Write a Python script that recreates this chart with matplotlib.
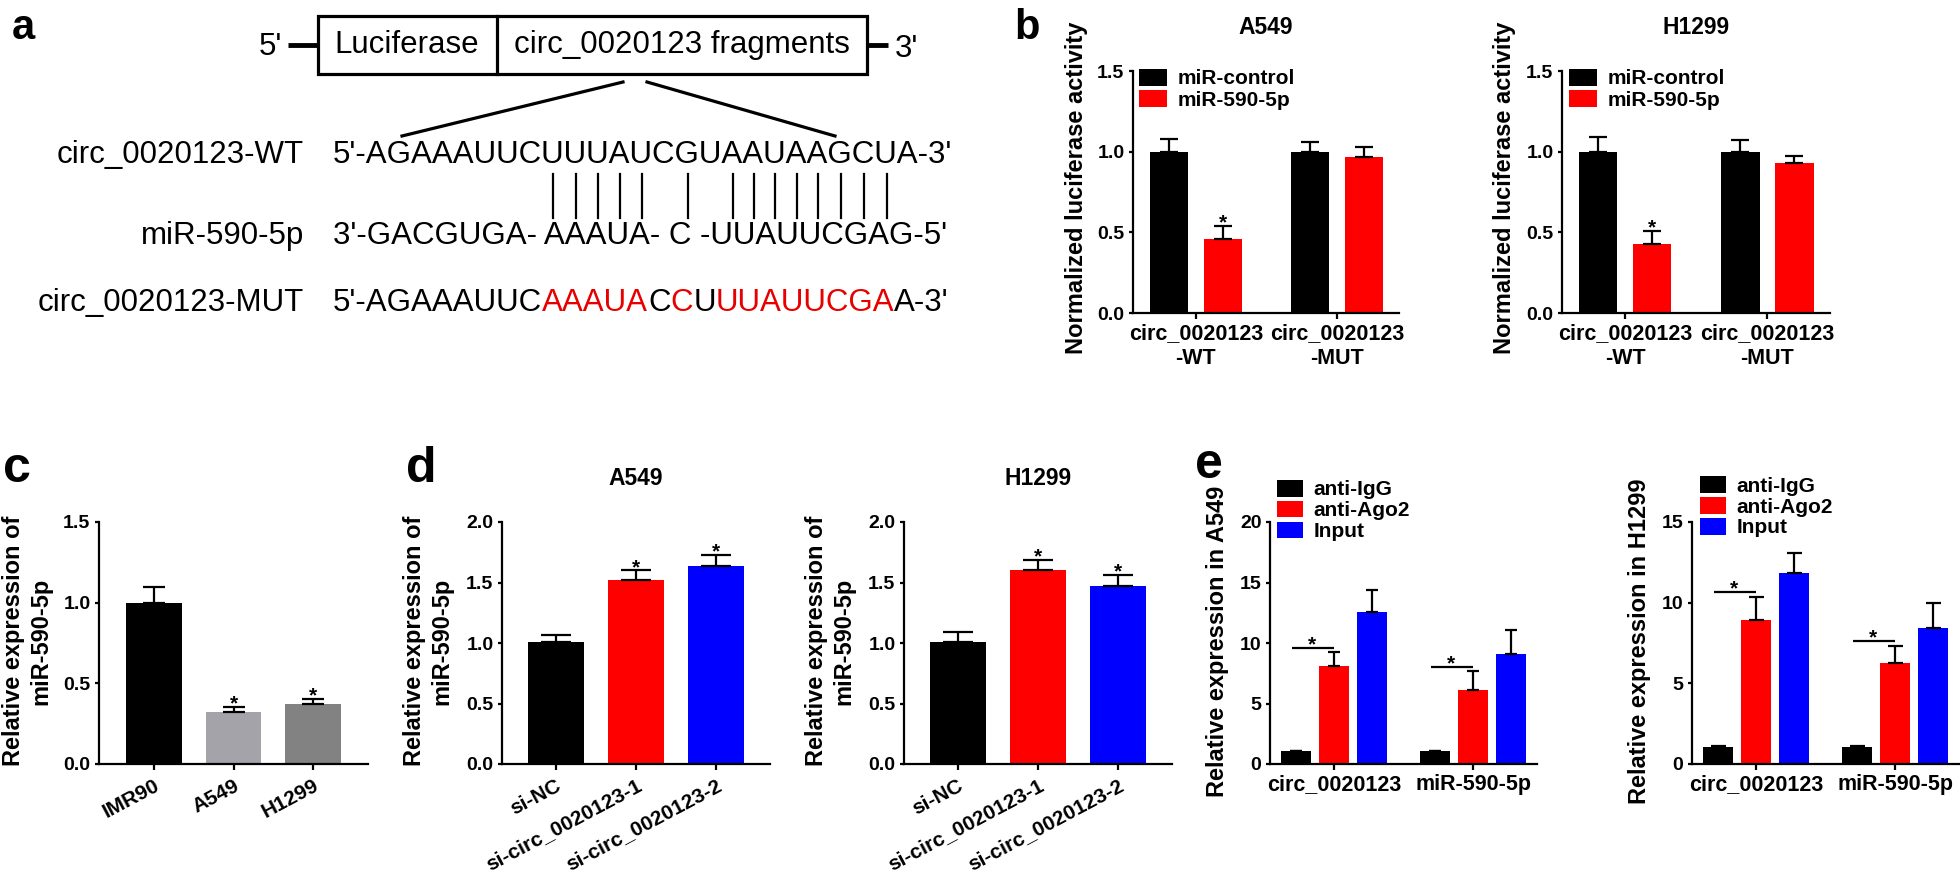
import matplotlib
matplotlib.use("Agg")
import matplotlib.pyplot as plt
from matplotlib.patches import Rectangle
from matplotlib.ticker import FormatStrFormatter
import numpy as np

W, H, DPI = 1960, 882, 100

# ---- data ---------------------------------------------------------------
# a: reporter schematic
WT_LABEL, MIR_LABEL, MUT_LABEL = "circ_0020123-WT", "miR-590-5p", "circ_0020123-MUT"
WT_SEQ = "5'-AGAAAUUCUUUAUCGUAAUAAGCUA-3'"
MIR_SEQ = "3'-GACGUGA- AAAUA- C -UUAUUCGAG-5'"
MUT_PARTS = ["5'-AGAAAUUC", "AAAUA", "C", "C", "U", "UUAUUCGA", "A-3'"]
MUT_CHANGED = [False, True, False, True, False, True, False]
PAIRED = [9, 10, 11, 12, 13, 15, 17, 18, 19, 20, 21, 22, 23, 24]  # 1-based, WT core

# b: luciferase reporter
B_GROUPS = ["circ_0020123\n-WT", "circ_0020123\n-MUT"]
B_SERIES = ["miR-control", "miR-590-5p"]
B_A549_CTRL, B_A549_CTRL_ERR = [1.00, 1.00], [0.08, 0.06]
B_A549_MIR, B_A549_MIR_ERR = [0.46, 0.97], [0.08, 0.06]
B_H1299_CTRL, B_H1299_CTRL_ERR = [1.00, 1.00], [0.09, 0.07]
B_H1299_MIR, B_H1299_MIR_ERR = [0.43, 0.93], [0.08, 0.045]
B_STARS = [True, False]

# c: miR-590-5p in cell lines
C_CELLS = ["IMR90", "A549", "H1299"]
C_VAL = [1.00, 0.32, 0.37]
C_ERR = [0.10, 0.035, 0.033]
C_STARS = [False, True, True]

# d: knockdown
D_GROUPS = ["si-NC", "si-circ_0020123-1", "si-circ_0020123-2"]
D_A549, D_A549_ERR = [1.01, 1.52, 1.64], [0.06, 0.08, 0.09]
D_H1299, D_H1299_ERR = [1.01, 1.60, 1.47], [0.08, 0.09, 0.09]
D_STARS = [False, True, True]

# e: RIP
E_GROUPS = ["circ_0020123", "miR-590-5p"]
E_SERIES = ["anti-IgG", "anti-Ago2", "Input"]
E_A549_IGG, E_A549_IGG_ERR = [1.05, 1.05], [0.05, 0.05]
E_A549_AGO, E_A549_AGO_ERR = [8.1, 6.1], [1.15, 1.55]
E_A549_IN, E_A549_IN_ERR = [12.6, 9.1], [1.75, 1.95]
E_A549_BRACKET = [9.6, 8.0]
E_H1299_IGG, E_H1299_IGG_ERR = [1.03, 1.03], [0.07, 0.07]
E_H1299_AGO, E_H1299_AGO_ERR = [8.9, 6.25], [1.45, 1.05]
E_H1299_IN, E_H1299_IN_ERR = [11.85, 8.45], [1.25, 1.5]
E_H1299_BRACKET = [10.65, 7.65]

RED, BLUE = "#ff0000", "#0000ff"
GRAY_L, GRAY_D = "#a3a3a9", "#828282"
MUT_RED = "#e80000"
FAM = ["Liberation Sans", "DejaVu Sans"]

plt.rcParams.update({"font.family": FAM, "font.weight": "bold"})
fig = plt.figure(figsize=(W / DPI, H / DPI), dpi=DPI, facecolor="white")


def px_rect(x0, y0, x1, y1):
    return [x0 / W, 1 - y1 / H, (x1 - x0) / W, (y1 - y0) / H]


def style(ax, xlim, ylim, yticks, fmt):
    ax.set_xlim(*xlim)
    ax.set_ylim(*ylim)
    ax.set_yticks(yticks)
    ax.yaxis.set_major_formatter(FormatStrFormatter(fmt))
    for s in ("top", "right"):
        ax.spines[s].set_visible(False)
    for s in ("left", "bottom"):
        ax.spines[s].set_linewidth(1.6)
    ax.tick_params(axis="y", length=3.2, width=1.6, pad=3, labelsize=14)
    ax.tick_params(axis="x", length=4.5, width=1.6, pad=3, labelsize=15.5)
    ax.set_facecolor("none")


def bars(ax, x, vals, errs, color, width, cap):
    h = ax.bar(x, vals, width, color=color, linewidth=0, zorder=2)
    ax.errorbar(x, vals, yerr=[np.zeros(len(vals)), errs], fmt="none",
                ecolor="black", elinewidth=1.6, capsize=cap, capthick=1.6, zorder=3)
    return h


def star(ax, x, y):
    ax.annotate("*", (x, y), xytext=(0, -1.8), textcoords="offset points",
                ha="center", va="baseline", fontsize=15)


def ylab(ax, x, text, y=0.508):
    ax.text(x, y, text, transform=ax.transAxes, rotation=90, ha="center",
            va="center", fontsize=17, linespacing=1.25)


def slanted(ax, labels):
    ax.set_xticklabels(labels, rotation=28, ha="right", rotation_mode="anchor",
                       fontsize=15)
    ax.tick_params(axis="x", pad=4)


def legend(ax, handles, labels, x, y, hl, hh, sp):
    ax.legend(handles, labels, loc="upper left", bbox_to_anchor=(x, y),
              frameon=False, prop={"size": 15, "weight": "bold"},
              handlelength=hl, handleheight=hh, handletextpad=0.5,
              labelspacing=sp, borderpad=0, borderaxespad=0)


# ---- a: schematic (overlay axes in pixel units) -------------------------
ov = fig.add_axes([0, 0, 1, 1])
ov.set_xlim(0, W)
ov.set_ylim(H, 0)
ov.axis("off")
afont = dict(fontsize=22.5, fontweight="normal", family=FAM)

BOX_T, BOX_B = 16, 74
BOX_C = 0.5 * (BOX_T + BOX_B)
ov.add_patch(Rectangle((318, BOX_T), 549, BOX_B - BOX_T, fill=False, lw=2.3, ec="black"))
ov.plot([497, 497], [BOX_T, BOX_B], color="black", lw=2.3)
ov.text(407, BOX_C, "Luciferase", ha="center", va="center", **afont)
ov.text(682, BOX_C, "circ_0020123 fragments", ha="center", va="center", **afont)
ov.plot([288, 318], [BOX_C, BOX_C], color="black", lw=3.5, solid_capstyle="butt")
ov.plot([867, 888], [BOX_C, BOX_C], color="black", lw=3.5, solid_capstyle="butt")
ov.text(270, BOX_C + 2, "5'", ha="center", va="center", **afont)
ov.text(906, BOX_C + 4, "3'", ha="center", va="center", **afont)
ov.plot([623, 402], [82, 136], color="black", lw=2.3)
ov.plot([647, 835], [82, 136], color="black", lw=2.3)

SEQ_X, LAB_X = 333, 304
Y_WT, Y_MIR, Y_MUT = 155, 236, 303
ov.text(LAB_X, Y_WT, WT_LABEL, ha="right", va="center", **afont)
ov.text(LAB_X, Y_MIR, MIR_LABEL, ha="right", va="center", **afont)
ov.text(LAB_X, Y_MUT, MUT_LABEL, ha="right", va="center", **afont)
ov.text(SEQ_X, Y_WT, WT_SEQ, ha="left", va="center", **afont)
ov.text(SEQ_X, Y_MIR, MIR_SEQ, ha="left", va="center", **afont)

prev = None
for part, changed in zip(MUT_PARTS, MUT_CHANGED):
    col = MUT_RED if changed else "black"
    if prev is None:
        prev = ov.text(SEQ_X, Y_MUT, part, ha="left", va="center", color=col, **afont)
    else:
        prev = ov.annotate(part, xy=(1, 0), xycoords=prev, ha="left", va="bottom",
                           color=col, **afont)

rend = fig.canvas.get_renderer()


def x_after(prefix):
    if not prefix:
        return SEQ_X
    t = ov.text(SEQ_X, Y_WT, prefix, ha="left", va="center", **afont)
    w = t.get_window_extent(rend).width
    t.remove()
    return SEQ_X + w


for k in PAIRED:
    i = k + 2
    xc = 0.5 * (x_after(WT_SEQ[:i]) + x_after(WT_SEQ[:i + 1]))
    ov.plot([xc, xc], [174, 218], color="black", lw=1.6)

# ---- panel letters -------------------------------------------------------
for letter, x, y, size in [("a", 12, 39, 30), ("b", 1014, 39, 30), ("c", 3, 482, 36),
                           ("d", 406, 482, 36), ("e", 1195, 478, 36)]:
    fig.text(x / W, 1 - y / H, letter, fontsize=size, fontweight="bold", va="baseline")

# ---- b -------------------------------------------------------------------
for rect, title, ctrl, ctrl_e, mir, mir_e, lx, yl in [
        (px_rect(1133, 71, 1399, 313), "A549", B_A549_CTRL, B_A549_CTRL_ERR,
         B_A549_MIR, B_A549_MIR_ERR, 0.023, -0.214),
        (px_rect(1562, 71, 1830, 313), "H1299", B_H1299_CTRL, B_H1299_CTRL_ERR,
         B_H1299_MIR, B_H1299_MIR_ERR, 0.026, -0.216)]:
    ax = fig.add_axes(rect)
    style(ax, (-0.445, 1.44), (0, 1.5), [0, 0.5, 1.0, 1.5], "%.1f")
    x = np.arange(len(B_GROUPS))
    h1 = bars(ax, x - 0.19, ctrl, ctrl_e, "black", 0.27, 6.5)
    h2 = bars(ax, x + 0.19, mir, mir_e, RED, 0.27, 6.5)
    ax.set_xticks(x, B_GROUPS)
    for xi, v, e, s in zip(x, mir, mir_e, B_STARS):
        if s:
            star(ax, xi + 0.19, v + e)
    ax.text(0.5, 1.18, title, transform=ax.transAxes, ha="center", va="center", fontsize=16.5)
    ylab(ax, yl, "Normalized luciferase activity", 0.517)
    legend(ax, [h1, h2], B_SERIES, lx, 1.01, 1.34, 0.9, 0.07)

# ---- c -------------------------------------------------------------------
ax = fig.add_axes(px_rect(99, 522, 368, 764))
style(ax, (-0.69, 2.69), (0, 1.5), [0, 0.5, 1.0, 1.5], "%.1f")
x = np.arange(len(C_CELLS))
for xi, v, e, col in zip(x, C_VAL, C_ERR, ["black", GRAY_L, GRAY_D]):
    bars(ax, [xi], [v], [e], col, 0.70, 8)
for xi, v, e, s in zip(x, C_VAL, C_ERR, C_STARS):
    if s:
        star(ax, xi, v + e)
ax.set_xticks(x)
slanted(ax, C_CELLS)
ylab(ax, -0.266, "Relative expression of\nmiR-590-5p")

# ---- d -------------------------------------------------------------------
for rect, title, vals, errs in [(px_rect(502, 522, 770, 764), "A549", D_A549, D_A549_ERR),
                                (px_rect(904, 522, 1172, 764), "H1299", D_H1299, D_H1299_ERR)]:
    ax = fig.add_axes(rect)
    style(ax, (-0.675, 2.675), (0, 2.0), [0, 0.5, 1.0, 1.5, 2.0], "%.1f")
    x = np.arange(len(D_GROUPS))
    for xi, v, e, col in zip(x, vals, errs, ["black", RED, BLUE]):
        bars(ax, [xi], [v], [e], col, 0.70, 11)
    for xi, v, e, s in zip(x, vals, errs, D_STARS):
        if s:
            star(ax, xi, v + e)
    ax.set_xticks(x)
    slanted(ax, D_GROUPS)
    ax.text(0.5, 1.178, title, transform=ax.transAxes, ha="center", va="center", fontsize=16.5)
    ylab(ax, -0.276, "Relative expression of\nmiR-590-5p")

# ---- e -------------------------------------------------------------------
for rect, ylim, yt, series, brackets, cap, leg, ytxt in [
        (px_rect(1270, 522, 1537, 764), 20, [0, 5, 10, 15, 20],
         [(E_A549_IGG, E_A549_IGG_ERR), (E_A549_AGO, E_A549_AGO_ERR), (E_A549_IN, E_A549_IN_ERR)],
         E_A549_BRACKET, 4.3, (0.026, 1.174), "Relative expression in A549"),
        (px_rect(1692, 522, 1959, 764), 15, [0, 5, 10, 15],
         [(E_H1299_IGG, E_H1299_IGG_ERR), (E_H1299_AGO, E_H1299_AGO_ERR), (E_H1299_IN, E_H1299_IN_ERR)],
         E_H1299_BRACKET, 5.4, (0.03, 1.19), "Relative expression in H1299")]:
    ax = fig.add_axes(rect)
    style(ax, (-0.46, 1.46), (0, ylim), yt, "%d")
    x = np.arange(len(E_GROUPS))
    hs = []
    for off, (vals, errs), col in zip([-0.273, 0, 0.273], series, ["black", RED, BLUE]):
        hs.append(bars(ax, x + off, vals, errs, col, 0.21, cap))
    for xi, b in zip(x, brackets):
        ax.plot([xi - 0.3, xi], [b, b], color="black", lw=1.6, solid_capstyle="butt")
        star(ax, xi - 0.16, b)
    ax.set_xticks(x, E_GROUPS)
    ylab(ax, -0.198, ytxt)
    legend(ax, hs, E_SERIES, leg[0], leg[1], 1.25, 0.85, 0.07)

fig.savefig("out.png", dpi=DPI, facecolor="white")
